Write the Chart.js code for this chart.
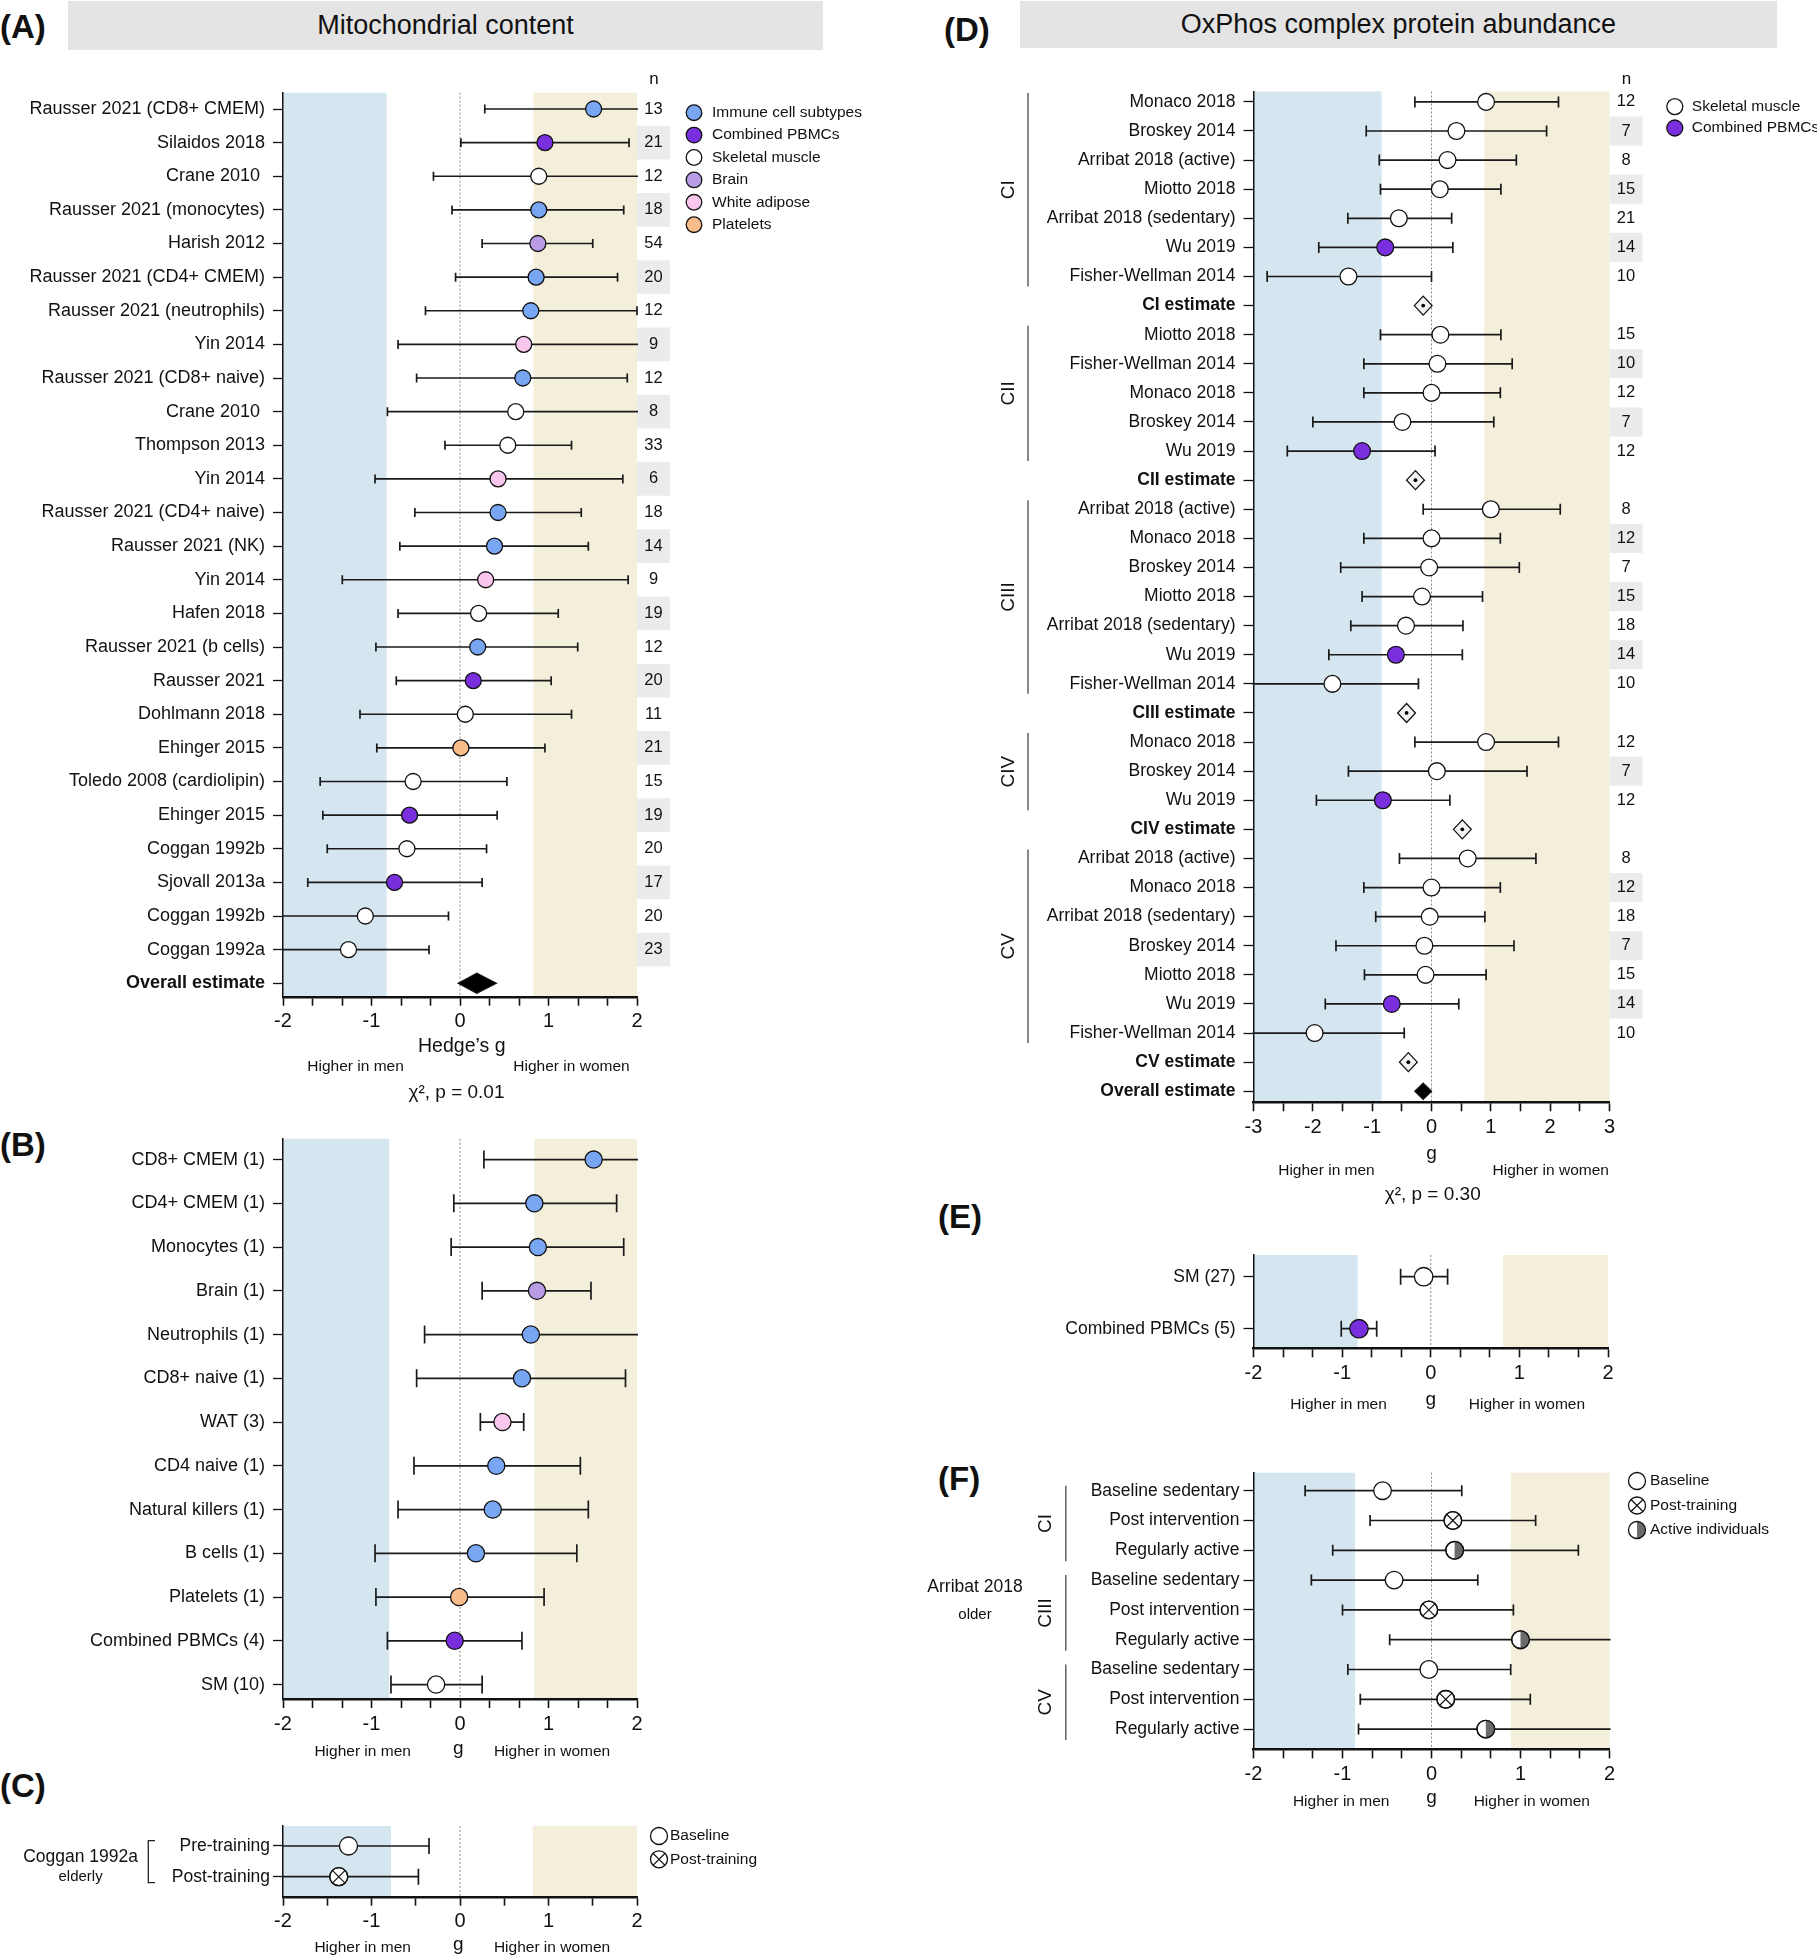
<!DOCTYPE html>
<html>
<head>
<meta charset="utf-8">
<script src="https://cdn.jsdelivr.net/npm/chart.js@4.4.0/dist/chart.umd.min.js"></script>
<style>
  body { margin:0; background:#fff; width:1817px; height:1956px; position:relative; overflow:hidden;
         font-family:"Liberation Sans", Arial, Helvetica, sans-serif; color:#111; }
  canvas { position:absolute; }
  .hdr { position:absolute; background:#e4e4e4; text-align:center; font-size:27px; }
  .tag { position:absolute; font-weight:bold; font-size:33px; line-height:33px; }
</style>
</head>
<body>
<div class="tag" style="left:0;top:10px">(A)</div>
<div class="hdr" style="left:68px;top:1px;width:755px;height:49px;line-height:49px">Mitochondrial content</div>
<div class="tag" style="left:0;top:1128px">(B)</div>
<div class="tag" style="left:0;top:1769px">(C)</div>
<div class="tag" style="left:944px;top:13px">(D)</div>
<div class="hdr" style="left:1020px;top:1px;width:757px;height:47px;line-height:47px">OxPhos complex protein abundance</div>
<div class="tag" style="left:938px;top:1200px">(E)</div>
<div class="tag" style="left:938px;top:1462px">(F)</div>

<script>
const FONT = '"Liberation Sans", Arial, Helvetica, sans-serif';
Chart.defaults.font.family = FONT;

// ---- (A) mitochondrial content, per study ----
const mitoLabels = ['Rausser 2021 (CD8+ CMEM)','Silaidos 2018','Crane 2010 ','Rausser 2021 (monocytes)','Harish 2012',
  'Rausser 2021 (CD4+ CMEM)','Rausser 2021 (neutrophils)','Yin 2014','Rausser 2021 (CD8+ naive)','Crane 2010 ',
  'Thompson 2013','Yin 2014','Rausser 2021 (CD4+ naive)','Rausser 2021 (NK)','Yin 2014','Hafen 2018',
  'Rausser 2021 (b cells)','Rausser 2021','Dohlmann 2018','Ehinger 2015','Toledo 2008 (cardiolipin)','Ehinger 2015',
  'Coggan 1992b','Sjovall 2013a','Coggan 1992b','Coggan 1992a','Overall estimate'];
const mitoG  = [1.51,0.96,0.89,0.89,0.88,0.86,0.80,0.72,0.71,0.63,0.54,0.43,0.43,0.39,0.29,0.21,0.20,0.15,0.06,0.01,-0.53,-0.57,-0.60,-0.74,-1.07,-1.26,0.19];
const mitoLo = [0.28,0.01,-0.30,-0.09,0.25,-0.05,-0.39,-0.70,-0.49,-0.82,-0.17,-0.96,-0.51,-0.68,-1.33,-0.70,-0.95,-0.72,-1.13,-0.94,-1.58,-1.55,-1.50,-1.72,-2.3,-2.3,-0.02];
const mitoHi = [2.3,1.91,2.3,1.85,1.50,1.78,2.0,2.3,1.89,2.3,1.26,1.84,1.37,1.45,1.90,1.11,1.33,1.03,1.26,0.96,0.53,0.42,0.30,0.25,-0.13,-0.35,0.41];
const mitoTissue = ['immune','pbmc','sm','immune','brain','immune','immune','wat','immune','sm','sm','wat','immune','immune',
  'wat','sm','immune','pbmc','sm','plt','sm','pbmc','sm','pbmc','sm','sm','overall'];
const mitoN = [13,21,12,18,54,20,12,9,12,8,33,6,18,14,9,19,12,20,11,21,15,19,20,17,20,23,null];

// ---- (B) per tissue ----
const tissueLabels = ['CD8+ CMEM (1)','CD4+ CMEM (1)','Monocytes (1)','Brain (1)','Neutrophils (1)','CD8+ naive (1)','WAT (3)',
  'CD4 naive (1)','Natural killers (1)','B cells (1)','Platelets (1)','Combined PBMCs (4)','SM (10)'];
const tissueG  = [1.51,0.84,0.88,0.87,0.80,0.70,0.48,0.41,0.37,0.18,-0.01,-0.06,-0.27];
const tissueLo = [0.27,-0.07,-0.10,0.25,-0.40,-0.49,0.23,-0.52,-0.70,-0.96,-0.95,-0.82,-0.78];
const tissueHi = [2.3,1.77,1.85,1.48,2.3,1.87,0.72,1.36,1.45,1.32,0.95,0.70,0.25];
const tissueType = ['immune','immune','immune','brain','immune','immune','wat','immune','immune','immune','plt','pbmc','sm'];

// ---- (C) Coggan 1992a elderly ----
const trainLabels = ['Pre-training','Post-training'];
const trainG  = [-1.26,-1.37];
const trainLo = [-2.3,-2.3];
const trainHi = [-0.35,-0.47];
const trainType = ['base','post'];

// ---- (D) OxPhos complexes ----
const oxLabels = ['Monaco 2018','Broskey 2014','Arribat 2018 (active)','Miotto 2018','Arribat 2018 (sedentary)','Wu 2019','Fisher-Wellman 2014','CI estimate',
  'Miotto 2018','Fisher-Wellman 2014','Monaco 2018','Broskey 2014','Wu 2019','CII estimate',
  'Arribat 2018 (active)','Monaco 2018','Broskey 2014','Miotto 2018','Arribat 2018 (sedentary)','Wu 2019','Fisher-Wellman 2014','CIII estimate',
  'Monaco 2018','Broskey 2014','Wu 2019','CIV estimate',
  'Arribat 2018 (active)','Monaco 2018','Arribat 2018 (sedentary)','Broskey 2014','Miotto 2018','Wu 2019','Fisher-Wellman 2014','CV estimate',
  'Overall estimate'];
const oxG  = [0.92,0.42,0.27,0.14,-0.55,-0.78,-1.40,-0.14, 0.15,0.10,0.00,-0.49,-1.17,-0.27,
  1.00,0.00,-0.04,-0.16,-0.43,-0.60,-1.67,-0.42, 0.92,0.09,-0.82,0.52, 0.61,0.00,-0.03,-0.12,-0.10,-0.67,-1.97,-0.39, -0.14];
const oxLo = [-0.28,-1.10,-0.88,-0.86,-1.41,-1.90,-2.77,-0.29, -0.86,-1.14,-1.14,-2.00,-2.43,-0.42,
  -0.14,-1.14,-1.53,-1.17,-1.36,-1.73,-3.3,-0.57, -0.28,-1.40,-1.94,0.37, -0.54,-1.14,-0.94,-1.61,-1.13,-1.79,-3.3,-0.54, -0.28];
const oxHi = [2.14,1.94,1.43,1.17,0.34,0.36,0.00,0.01, 1.17,1.36,1.16,1.05,0.06,-0.12,
  2.17,1.16,1.48,0.86,0.53,0.52,-0.22,-0.27, 2.14,1.61,0.31,0.67, 1.76,1.16,0.90,1.39,0.92,0.46,-0.46,-0.24, 0.00];
const oxType = ['sm','sm','sm','sm','sm','pbmc','sm','est', 'sm','sm','sm','sm','pbmc','est',
  'sm','sm','sm','sm','sm','pbmc','sm','est', 'sm','sm','pbmc','est', 'sm','sm','sm','sm','sm','pbmc','sm','est', 'overall'];
const oxN = [12,7,8,15,21,14,10,null, 15,10,12,7,12,null, 8,12,7,15,18,14,10,null, 12,7,12,null, 8,12,18,7,15,14,10,null, null];
const oxGroups = ['CI','CII','CIII','CIV','CV'];
const oxGroupRows = [[0,6],[8,12],[14,20],[22,24],[26,32]];

// ---- (E) per tissue, OxPhos ----
const oxTissueLabels = ['SM (27)','Combined PBMCs (5)'];
const oxTissueG  = [-0.08,-0.81];
const oxTissueLo = [-0.34,-1.01];
const oxTissueHi = [0.19,-0.61];
const oxTissueType = ['sm','pbmc'];

// ---- (F) Arribat 2018 older ----
const arribatLabels = ['Baseline sedentary','Post intervention','Regularly active','Baseline sedentary','Post intervention',
  'Regularly active','Baseline sedentary','Post intervention','Regularly active'];
const arribatG  = [-0.55,0.24,0.26,-0.42,-0.03,1.00,-0.03,0.16,0.61];
const arribatLo = [-1.42,-0.69,-1.11,-1.35,-1.00,-0.47,-0.94,-0.80,-0.82];
const arribatHi = [0.34,1.17,1.65,0.52,0.92,2.3,0.89,1.11,2.3];
const arribatType = ['base','post','active','base','post','active','base','post','active'];
const arribatGroups = ['CI','CIII','CV'];
const arribatGroupRows = [[0,2],[3,5],[6,8]];

const COLORS = { immune:'#79a6f3', pbmc:'#7a2fdf', sm:'#ffffff', brain:'#b99ce4', wat:'#f9c6ee', plt:'#f8bd8a',
                 base:'#ffffff', post:'#ffffff', active:'#ffffff' };
const isEst = k => k === 'est' || k === 'overall';

function drawMarker(ctx, x, y, r, kind, fillFirst) {
  ctx.save();
  if (fillFirst) {
    ctx.beginPath(); ctx.arc(x, y, r, 0, Math.PI * 2);
    ctx.fillStyle = COLORS[kind] || '#fff'; ctx.fill();
  }
  if (kind === 'active') {
    ctx.beginPath(); ctx.moveTo(x, y - r); ctx.arc(x, y, r, -Math.PI / 2, Math.PI / 2); ctx.closePath();
    ctx.fillStyle = '#6b6b6b'; ctx.fill();
  }
  if (kind === 'post') {
    const d = r * Math.SQRT1_2;
    ctx.beginPath();
    ctx.moveTo(x - d, y - d); ctx.lineTo(x + d, y + d);
    ctx.moveTo(x + d, y - d); ctx.lineTo(x - d, y + d);
    ctx.strokeStyle = '#111'; ctx.lineWidth = 1.2; ctx.stroke();
  }
  ctx.beginPath(); ctx.arc(x, y, r, 0, Math.PI * 2);
  ctx.strokeStyle = '#111'; ctx.lineWidth = 1.3; ctx.stroke();
  ctx.restore();
}

function txt(ctx, s, x, y, size, align, bold) {
  ctx.font = (bold ? 'bold ' : '') + size + 'px ' + FONT;
  ctx.fillStyle = '#111';
  ctx.textAlign = align || 'center';
  ctx.textBaseline = 'middle';
  ctx.fillText(s, x, y);
}

function panel(cfg) {
  const [bl, bt, bw, bh] = cfg.box;
  const [al, at, ar, ab] = cfg.area;
  const cv = document.createElement('canvas');
  cv.width = bw; cv.height = bh;
  cv.style.left = bl + 'px'; cv.style.top = bt + 'px';
  document.body.appendChild(cv);
  const px = X => X - bl, py = Y => Y - bt;
  const nRows = cfg.labels.length;

  const pts = [];
  cfg.g.forEach((v, i) => { if (!isEst(cfg.kind[i])) pts.push({ x: v, y: i, k: cfg.kind[i] }); });

  const forest = {
    id: 'forest_' + cfg.id,
    beforeDraw(chart) {
      const { ctx, chartArea: a, scales: { x, y } } = chart;
      ctx.save();
      ctx.fillStyle = '#d5e6f0';
      ctx.fillRect(a.left, a.top, x.getPixelForValue(cfg.bands[0]) - a.left, a.bottom - a.top);
      const bx = x.getPixelForValue(cfg.bands[1]);
      ctx.fillStyle = '#f4efdb';
      ctx.fillRect(bx, a.top, a.right - bx, a.bottom - a.top);
      const zx = x.getPixelForValue(0);
      ctx.strokeStyle = '#8a8a8a'; ctx.lineWidth = 1; ctx.setLineDash([2, 2]);
      ctx.beginPath(); ctx.moveTo(zx, a.top); ctx.lineTo(zx, a.bottom); ctx.stroke();
      ctx.setLineDash([]);
      if (cfg.n) {
        const h = (y.getPixelForValue(1) - y.getPixelForValue(0)) / 2;
        cfg.n.forEach((v, i) => {
          if (v === null) return;
          const yy = y.getPixelForValue(i);
          if (cfg.shade(i)) { ctx.fillStyle = '#ebebeb'; ctx.fillRect(a.right, yy - h, 33, 2 * h); }
          txt(ctx, String(v), a.right + 16.5, yy, 16.5);
        });
        txt(ctx, 'n', a.right + 17, py(cfg.nHeaderY), 17);
      }
      ctx.restore();
    },
    beforeDatasetsDraw(chart) {
      const { ctx, chartArea: a, scales: { x, y } } = chart;
      ctx.save();
      ctx.beginPath(); ctx.rect(a.left - 1, a.top - 30, a.right - a.left + 2, a.bottom - a.top + 60); ctx.clip();
      ctx.strokeStyle = '#1a1a1a'; ctx.lineWidth = 1.7;
      cfg.g.forEach((v, i) => {
        if (isEst(cfg.kind[i])) return;
        const yy = y.getPixelForValue(i);
        const x0 = x.getPixelForValue(cfg.lo[i]), x1 = x.getPixelForValue(cfg.hi[i]);
        ctx.beginPath();
        ctx.moveTo(x0, yy); ctx.lineTo(x1, yy);
        ctx.moveTo(x0, yy - cfg.cap); ctx.lineTo(x0, yy + cfg.cap);
        ctx.moveTo(x1, yy - cfg.cap); ctx.lineTo(x1, yy + cfg.cap);
        ctx.stroke();
      });
      ctx.restore();
    },
    afterDatasetsDraw(chart) {
      const { ctx, scales: { x, y } } = chart;
      const meta = chart.getDatasetMeta(0);
      meta.data.forEach((el, j) => {
        const k = pts[j].k;
        if (k === 'post' || k === 'active') drawMarker(ctx, el.x, el.y, cfg.r, k, false);
      });
      ctx.save();
      cfg.g.forEach((v, i) => {
        const k = cfg.kind[i];
        if (!isEst(k)) return;
        const xc = x.getPixelForValue(v), xl = x.getPixelForValue(cfg.lo[i]), xr = x.getPixelForValue(cfg.hi[i]);
        const yy = y.getPixelForValue(i), h = k === 'overall' ? cfg.dH : cfg.dH2;
        ctx.beginPath();
        ctx.moveTo(xl, yy); ctx.lineTo(xc, yy - h); ctx.lineTo(xr, yy); ctx.lineTo(xc, yy + h); ctx.closePath();
        ctx.fillStyle = k === 'overall' ? '#000' : '#f3f3f3'; ctx.fill();
        ctx.strokeStyle = '#111'; ctx.lineWidth = 1.3; ctx.stroke();
        if (k === 'est') { ctx.beginPath(); ctx.arc(xc, yy, 1.9, 0, Math.PI * 2); ctx.fillStyle = '#000'; ctx.fill(); }
      });
      ctx.restore();
    },
    afterDraw(chart) {
      const { ctx, scales: { x, y } } = chart;
      ctx.save();
      (cfg.texts || []).forEach(t => txt(ctx, t.t, x.getPixelForValue(t.g), py(t.y), t.size || 15.5));
      if (cfg.legend) {
        const L = cfg.legend;
        L.items.forEach((it, j) => {
          const yy = py(L.y + j * L.step);
          drawMarker(ctx, px(L.x), yy, L.r, it[0], true);
          txt(ctx, it[1], px(L.tx), yy, L.size, 'left');
        });
      }
      if (cfg.groups) {
        const G = cfg.groups;
        G.names.forEach((nm, j) => {
          const [f, t] = G.rows[j];
          const y0 = y.getPixelForValue(f) - G.up, y1 = y.getPixelForValue(t) + G.down;
          ctx.strokeStyle = '#555'; ctx.lineWidth = 1.4;
          ctx.beginPath(); ctx.moveTo(px(G.x), y0); ctx.lineTo(px(G.x), y1); ctx.stroke();
          ctx.save();
          ctx.translate(px(G.lx), (y0 + y1) / 2); ctx.rotate(-Math.PI / 2);
          txt(ctx, nm, 0, 0, G.size);
          ctx.restore();
        });
      }
      if (cfg.extra) cfg.extra(ctx, px, py, x, y);
      ctx.restore();
    }
  };

  const labelFont = c => {
    const bold = c && c.tick && isEst(cfg.kind[Math.round(c.tick.value)]);
    return { size: cfg.labelSize, weight: bold ? 'bold' : 'normal' };
  };

  return new Chart(cv, {
    type: 'scatter',
    data: { datasets: [{
      data: pts,
      pointRadius: cfg.r, pointHoverRadius: cfg.r,
      pointBackgroundColor: c => COLORS[c.raw ? c.raw.k : 'sm'],
      pointBorderColor: '#111', pointBorderWidth: 1.3
    }] },
    options: {
      responsive: false, animation: false, devicePixelRatio: 1,
      layout: { padding: { left: 0, top: at - bt, right: bl + bw - ar, bottom: 0 } },
      plugins: { legend: { display: false }, tooltip: { enabled: false } },
      events: [],
      scales: {
        x: {
          type: 'linear', min: cfg.xMin, max: cfg.xMax,
          afterBuildTicks: s => {
            const t = [], n = Math.round((cfg.xMax - cfg.xMin) / cfg.minor);
            for (let k = 0; k <= n; k++) t.push({ value: cfg.xMin + k * cfg.minor });
            s.ticks = t;
          },
          afterFit: s => { s.height = bt + bh - ab; },
          ticks: { autoSkip: false, maxRotation: 0, padding: 4, color: '#111', font: { size: 20 },
            callback: v => Math.abs(v - Math.round(v)) < 1e-6 ? String(Math.round(v) || 0) : '' },
          grid: { drawOnChartArea: false, drawTicks: true, tickLength: 9, tickColor: '#111', tickWidth: 1.6 },
          border: { display: true, color: '#111', width: 2.4 }
        },
        y: {
          type: 'linear', reverse: true, min: -cfg.pad[0], max: nRows - 1 + cfg.pad[1],
          afterBuildTicks: s => { s.ticks = cfg.labels.map((_, i) => ({ value: i })); },
          afterFit: s => { s.width = al - bl; },
          ticks: { autoSkip: false, padding: cfg.labelPad, color: '#111', font: labelFont,
            callback: v => cfg.labels[Math.round(v)] },
          grid: { drawOnChartArea: false, drawTicks: true, tickLength: 10, tickColor: '#111', tickWidth: 1.3 },
          border: { display: true, color: '#111', width: 1.5 }
        }
      }
    },
    plugins: [forest]
  });
}

// (A)
panel({
  id: 'A', box: [0, 40, 900, 1075], area: [283, 92.7, 637, 996.7],
  xMin: -2, xMax: 2, minor: 1 / 3, pad: [0.485, 0.4],
  labels: mitoLabels, g: mitoG, lo: mitoLo, hi: mitoHi, kind: mitoTissue,
  n: mitoN, shade: i => i % 2 === 1, nHeaderY: 79,
  bands: [-0.83, 0.83], cap: 4.5, r: 8, dH: 10, dH2: 9.5, labelSize: 18, labelPad: 8,
  texts: [
    { t: 'Hedge’s g', g: 0.02, y: 1047, size: 19.5 },
    { t: 'Higher in men', g: -1.18, y: 1067 },
    { t: 'Higher in women', g: 1.26, y: 1067 },
    { t: 'χ², p = 0.01', g: -0.04, y: 1093, size: 19 }
  ],
  legend: { x: 694, tx: 712, y: 112.7, step: 22.4, r: 7.8, size: 15.5,
    items: [['immune', 'Immune cell subtypes'], ['pbmc', 'Combined PBMCs'], ['sm', 'Skeletal muscle'],
            ['brain', 'Brain'], ['wat', 'White adipose'], ['plt', 'Platelets']] }
});

// (B)
panel({
  id: 'B', box: [0, 1100, 900, 670], area: [283, 1138.8, 637, 1699],
  xMin: -2, xMax: 2, minor: 1 / 3, pad: [0.475, 0.33],
  labels: tissueLabels, g: tissueG, lo: tissueLo, hi: tissueHi, kind: tissueType,
  bands: [-0.8, 0.84], cap: 9, r: 8.6, dH: 10, dH2: 9, labelSize: 18, labelPad: 8,
  texts: [
    { t: 'Higher in men', g: -1.1, y: 1751.7 },
    { t: 'g', g: -0.02, y: 1749, size: 19 },
    { t: 'Higher in women', g: 1.04, y: 1751.7 }
  ]
});

// (C)
panel({
  id: 'C', box: [0, 1775, 900, 181], area: [283, 1826, 637, 1896.7],
  xMin: -2, xMax: 2, minor: 0.5, pad: [0.65, 0.65],
  labels: trainLabels, g: trainG, lo: trainLo, hi: trainHi, kind: trainType,
  bands: [-0.78, 0.824], cap: 8, r: 9, dH: 10, dH2: 9, labelSize: 17.5, labelPad: 3,
  texts: [
    { t: 'Higher in men', g: -1.1, y: 1947.5 },
    { t: 'g', g: -0.02, y: 1945, size: 19 },
    { t: 'Higher in women', g: 1.04, y: 1947.5 }
  ],
  legend: { x: 659, tx: 670, y: 1836, step: 23.3, r: 8.5, size: 15.5,
    items: [['base', 'Baseline'], ['post', 'Post-training']] },
  extra: (ctx, px, py) => {
    ctx.strokeStyle = '#222'; ctx.lineWidth = 1.3;
    ctx.beginPath();
    ctx.moveTo(px(155), py(1840.7)); ctx.lineTo(px(148.3), py(1840.7)); ctx.lineTo(px(148.3), py(1882.7)); ctx.lineTo(px(155), py(1882.7));
    ctx.stroke();
    txt(ctx, 'Coggan 1992a', px(80.6), py(1856.7), 17.5);
    txt(ctx, 'elderly', px(80.6), py(1876.7), 15);
  }
});

// (D)
panel({
  id: 'D', box: [900, 40, 917, 1180], area: [1253.5, 91.5, 1609.5, 1102.3],
  xMin: -3, xMax: 3, minor: 0.5, pad: [0.357, 0.38],
  labels: oxLabels, g: oxG, lo: oxLo, hi: oxHi, kind: oxType,
  n: oxN, nHeaderY: 79.7,
  shade: i => { const gr = oxGroupRows.find(r => i >= r[0] && i <= r[1]); return gr ? (i - gr[0]) % 2 === 1 : false; },
  bands: [-0.84, 0.89], cap: 5.5, r: 8.4, dH: 8, dH2: 9.5, labelSize: 17.5, labelPad: 8,
  texts: [
    { t: 'g', g: 0, y: 1153.3, size: 19 },
    { t: 'Higher in men', g: -1.77, y: 1170.7 },
    { t: 'Higher in women', g: 2.01, y: 1170.7 },
    { t: 'χ², p = 0.30', g: 0.02, y: 1195, size: 19 }
  ],
  legend: { x: 1674.8, tx: 1691.8, y: 106.6, step: 21.4, r: 8, size: 15.5,
    items: [['sm', 'Skeletal muscle'], ['pbmc', 'Combined PBMCs']] },
  groups: { names: oxGroups, rows: oxGroupRows, x: 1028, lx: 1008.7, up: 9, down: 10, size: 19 }
});

// (E)
panel({
  id: 'E', box: [900, 1220, 917, 205], area: [1253.5, 1255, 1608, 1348.3],
  xMin: -2, xMax: 2, minor: 1 / 3, pad: [0.417, 0.377],
  labels: oxTissueLabels, g: oxTissueG, lo: oxTissueLo, hi: oxTissueHi, kind: oxTissueType,
  bands: [-0.825, 0.818], cap: 8, r: 9.2, dH: 10, dH2: 9, labelSize: 17.5, labelPad: 8,
  texts: [
    { t: 'Higher in men', g: -1.04, y: 1404.7 },
    { t: 'g', g: 0, y: 1400, size: 19 },
    { t: 'Higher in women', g: 1.085, y: 1404.7 }
  ]
});

// (F)
panel({
  id: 'F', box: [900, 1430, 917, 390], area: [1253.5, 1472.7, 1609.5, 1749.3],
  xMin: -2, xMax: 2, minor: 1 / 3, pad: [0.604, 0.678],
  labels: arribatLabels, g: arribatG, lo: arribatLo, hi: arribatHi, kind: arribatType,
  bands: [-0.86, 0.89], cap: 5.5, r: 8.8, dH: 10, dH2: 9, labelSize: 17.5, labelPad: 4,
  texts: [
    { t: 'Higher in men', g: -1.015, y: 1801.7 },
    { t: 'g', g: 0, y: 1798, size: 19 },
    { t: 'Higher in women', g: 1.127, y: 1801.7 }
  ],
  legend: { x: 1637, tx: 1650, y: 1481, step: 24.5, r: 8.5, size: 15.5,
    items: [['base', 'Baseline'], ['post', 'Post-training'], ['active', 'Active individuals']] },
  groups: { names: arribatGroups, rows: arribatGroupRows, x: 1065.8, lx: 1045.8, up: 5, down: 11, size: 19 },
  extra: (ctx, px, py) => {
    txt(ctx, 'Arribat 2018', px(975), py(1586.7), 17.5);
    txt(ctx, 'older', px(975), py(1615), 15);
  }
});
</script>
</body>
</html>
